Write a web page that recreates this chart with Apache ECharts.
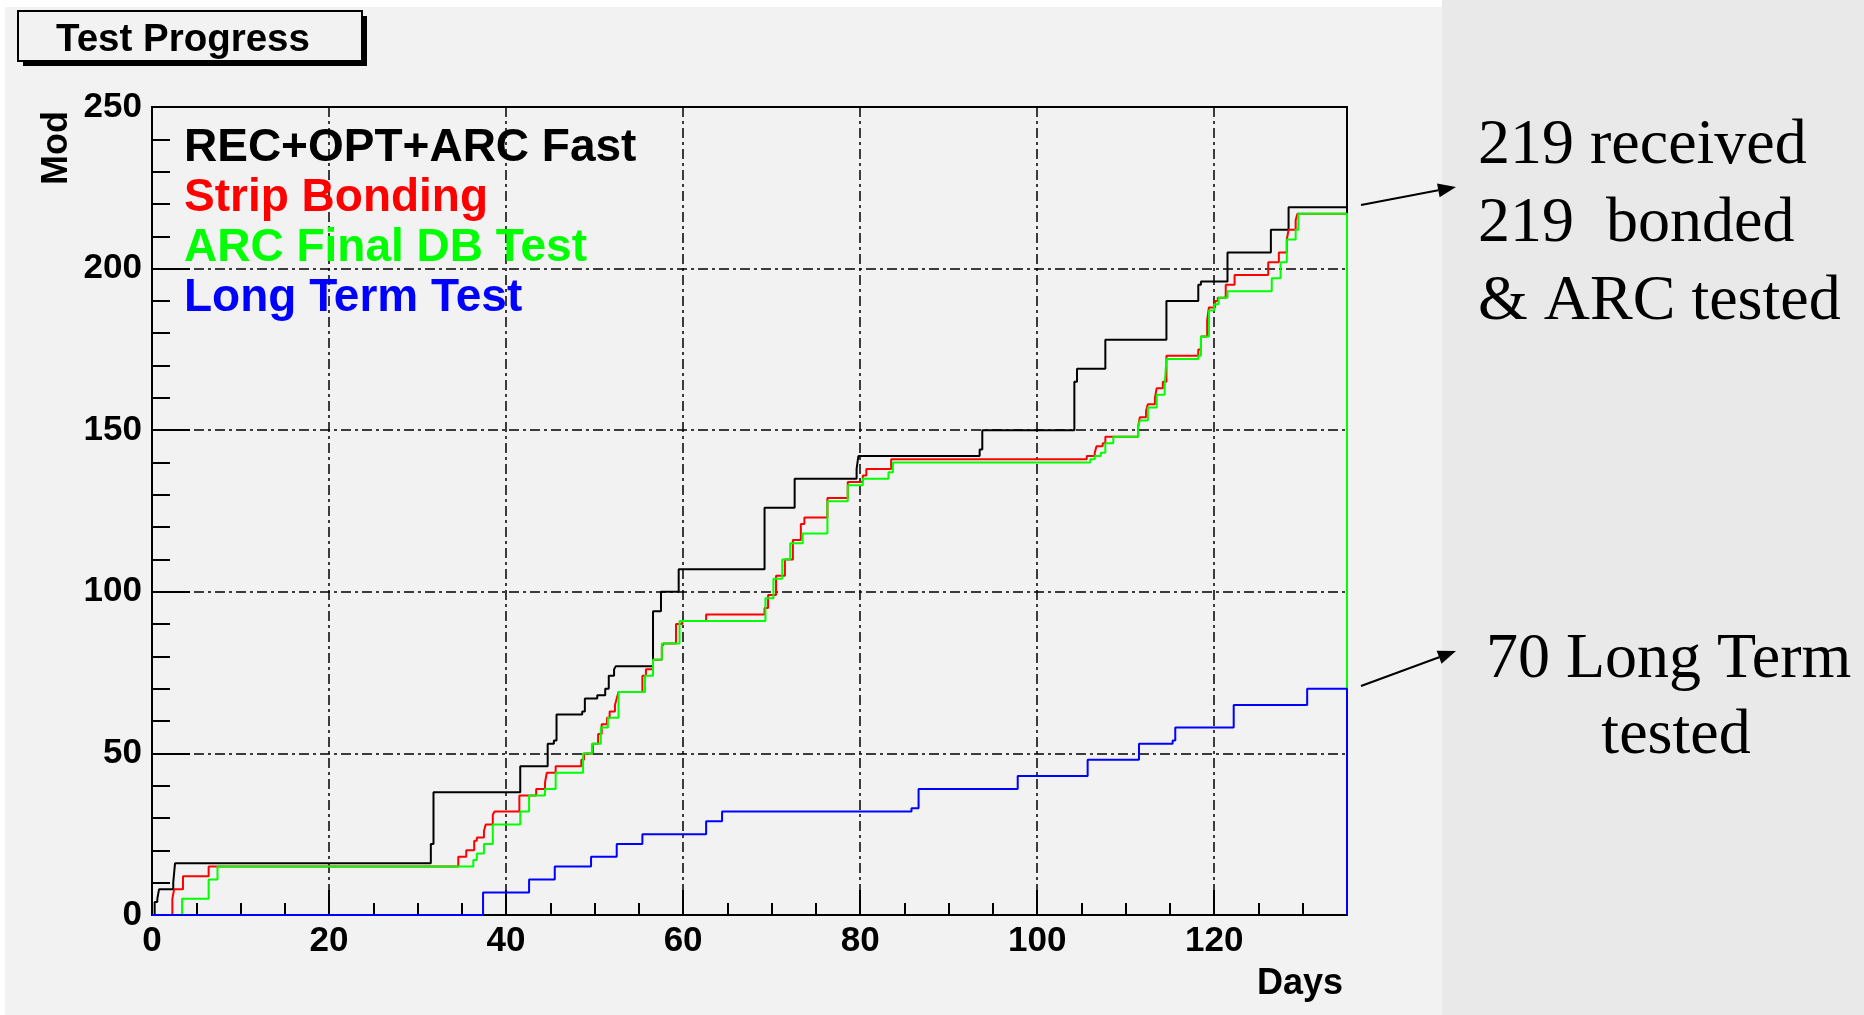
<!DOCTYPE html>
<html>
<head>
<meta charset="utf-8">
<script src="https://cdn.jsdelivr.net/npm/echarts@6/dist/echarts.min.js"></script>
<style>
  html, body { margin: 0; padding: 0; background: #e9e9e9; }
  #chart { width: 1864px; height: 1015px; }
</style>
</head>
<body>
<div id="chart"></div>
<script>
// series names (legend order)
const seriesNames = ["REC+OPT+ARC Fast", "Strip Bonding", "ARC Final DB Test", "Long Term Test"];
const seriesColors = ["#000000", "#ff0000", "#00ff00", "#0000ff"];

// [day, cumulative modules]
const recFast = [
  [0, 0], [0.3, 4], [0.6, 5], [0.8, 8], [2.4, 10], [2.6, 16], [31.5, 22], [31.8, 38],
  [41.6, 46], [44.7, 53], [45.4, 54], [45.7, 62], [48.6, 63], [48.9, 67], [50.3, 68],
  [51.2, 70], [51.6, 74], [52.2, 76], [52.4, 77], [56.6, 94], [57.5, 100], [59.5, 107],
  [69.2, 126], [72.6, 135], [79.6, 138], [79.8, 142], [93.5, 144], [93.8, 150],
  [104.2, 165], [104.5, 169], [107.7, 178], [114.6, 190], [118.2, 195], [118.5, 196],
  [121.5, 205], [126.4, 212], [128.4, 219], [135, 0],
];
const stripBonding = [
  [0, 0], [2.3, 5], [2.5, 8], [3.5, 12], [6.4, 15], [34.6, 18], [35.5, 20], [36.4, 23],
  [36.7, 24], [37.5, 26], [37.7, 28], [38.5, 31], [38.7, 32], [41.5, 37], [43.4, 39],
  [44.4, 41], [44.6, 44], [45.6, 46], [48.5, 48], [48.8, 50], [49.8, 53], [50.4, 56],
  [50.8, 59], [51.4, 61], [51.7, 63], [52.3, 65], [52.5, 67], [52.7, 69], [55.4, 74],
  [55.8, 76], [56.6, 79], [57.6, 83], [57.8, 84], [59.2, 90], [59.9, 91], [62.6, 93],
  [69.2, 95], [69.6, 99], [70.5, 105], [71.5, 110], [72.4, 116], [73.3, 121], [73.7, 123],
  [76.3, 129], [78.6, 134], [80.3, 136], [80.7, 138], [83.5, 141], [105.6, 142],
  [106.5, 143], [106.7, 145], [107.4, 146], [107.7, 148], [111.4, 151], [111.6, 154],
  [112.3, 156], [112.5, 158], [113.3, 160], [113.5, 163], [114.2, 165], [114.6, 173],
  [118.2, 175], [118.5, 179], [119.2, 184], [119.4, 188], [120.1, 190], [120.4, 191],
  [121.3, 195], [122.3, 198], [126.1, 202], [127.3, 205], [128.2, 209], [128.4, 212],
  [129.2, 215], [129.4, 217], [135, 0],
];
const arcFinal = [
  [0, 0], [3.4, 5], [6.4, 11], [7.4, 15], [36.3, 17], [36.7, 19], [37.5, 22], [38.5, 28],
  [41.6, 32], [42.6, 37], [44.4, 39], [45.6, 44], [48.7, 50], [49.7, 53], [50.7, 58],
  [51.5, 61], [52.7, 69], [55.7, 74], [56.6, 79], [57.6, 84], [59.6, 91], [69.3, 98],
  [70.2, 104], [71.2, 110], [72.1, 115], [73.5, 118], [76.3, 128], [78.6, 133], [80.3, 135],
  [83.2, 137], [83.7, 140], [106, 141], [106.5, 142], [107.2, 143], [107.7, 146],
  [108.6, 148], [111.4, 151], [111.6, 153], [112.5, 157], [113.5, 161], [114.4, 164],
  [114.6, 172], [118.2, 173], [118.5, 179], [119.4, 187], [120, 189], [120.5, 191],
  [121.5, 193], [126.5, 197], [127.5, 202], [128.2, 209], [129.2, 212], [129.5, 217],
  [135, 0],
];
const longTerm = [
  [0, 0], [37.4, 7], [42.6, 11], [45.5, 15], [49.6, 18], [52.5, 22], [55.4, 25], [62.6, 29],
  [64.4, 32], [85.8, 33], [86.6, 39], [97.8, 43], [105.7, 48], [111.5, 53], [115.3, 54],
  [115.6, 58], [122.2, 65], [130.5, 70], [135, 0],
];
const seriesData = [recFast, stripBonding, arcFinal, longTerm];

// axis ranges
const xMin = 0, xMax = 135, xStep = 20, xMinorStep = 5;
const yMin = 0, yMax = 250, yStep = 50;

// side notes
const noteTop = ["219 received", "219  bonded", "& ARC tested"];
const noteBottom = ["70 Long Term", "tested"];

const sans = "'Liberation Sans', Arial, sans-serif";
const serif = "'Liberation Serif', 'Times New Roman', serif";
const dashDot = [10, 4, 3, 4];

function arrow(x1, y1, x2, y2) {
  const a = Math.atan2(y2 - y1, x2 - x1);
  const len = 18, half = 7;
  const bx = x2 - len * Math.cos(a), by = y2 - len * Math.sin(a);
  return [
    { type: "line", z: 10, shape: { x1, y1, x2: bx, y2: by }, style: { stroke: "#000", lineWidth: 2 } },
    {
      type: "polygon", z: 10,
      shape: { points: [[x2, y2], [bx + half * Math.sin(a), by - half * Math.cos(a)], [bx - half * Math.sin(a), by + half * Math.cos(a)]] },
      style: { fill: "#000" },
    },
  ];
}

const chart = echarts.init(document.getElementById("chart"));

const option = {
  animation: false,
  backgroundColor: "#e9e9e9",
  grid: {
    left: 152, right: 517, top: 107, bottom: 100,
    show: true, borderColor: "#000", borderWidth: 2, backgroundColor: "transparent",
  },
  legend: {
    orient: "vertical",
    left: 174, top: 120,
    icon: "none",
    itemWidth: 0, itemHeight: 0, itemGap: 4,
    selectedMode: false,
    textStyle: { fontFamily: sans, fontWeight: "bold", fontSize: 46, lineHeight: 46 },
    data: seriesNames.map((name, i) => ({ name, textStyle: { color: seriesColors[i] } })),
  },
  xAxis: [
    {
      type: "value", min: xMin, max: xMax, interval: xStep,
      axisLine: { lineStyle: { color: "#000", width: 2 } },
      axisTick: { inside: true, length: 25, lineStyle: { color: "#000", width: 2 } },
      axisLabel: {
        color: "#000", fontFamily: sans, fontWeight: "bold", fontSize: 35, margin: 9,
        showMaxLabel: false,
      },
      splitLine: { show: true, lineStyle: { color: "#000", width: 1.5, type: dashDot } },
    },
    {
      // minor ticks every 5 days
      type: "value", min: xMin, max: xMax, interval: xMinorStep, position: "bottom",
      axisLine: { show: false },
      axisTick: { inside: true, length: 12, lineStyle: { color: "#000", width: 2 } },
      axisLabel: { show: false },
      splitLine: { show: false },
    },
  ],
  yAxis: {
    type: "value", min: yMin, max: yMax, interval: yStep,
    axisLine: { show: true, lineStyle: { color: "#000", width: 2 } },
    axisTick: { show: true, inside: true, length: 38, lineStyle: { color: "#000", width: 2 } },
    minorTick: { show: true, splitNumber: 5, length: 18, lineStyle: { color: "#000", width: 2 } },
    axisLabel: { color: "#000", fontFamily: sans, fontWeight: "bold", fontSize: 35, margin: 10 },
    splitLine: { show: true, lineStyle: { color: "#000", width: 1.5, type: dashDot } },
  },
  series: seriesNames.map((name, i) => ({
    name,
    type: "line",
    step: "end",
    xAxisIndex: 0,
    showSymbol: false,
    symbol: "none",
    color: seriesColors[i],
    lineStyle: { color: seriesColors[i], width: 2 },
    data: seriesData[i],
    z: 3 + i,
  })),
  graphic: [
    // ROOT canvas panel
    { type: "rect", z: -100, silent: true, shape: { x: 0, y: 0, width: 1442, height: 1015 }, style: { fill: "#ffffff" } },
    { type: "rect", z: -99, silent: true, shape: { x: 5, y: 7, width: 1437, height: 1008 }, style: { fill: "#f2f2f2" } },
    // title box with shadow
    { type: "rect", z: 5, shape: { x: 23, y: 16, width: 344, height: 50 }, style: { fill: "#000" } },
    { type: "rect", z: 6, shape: { x: 18, y: 11, width: 344, height: 50 }, style: { fill: "#f2f2f2", stroke: "#000", lineWidth: 2 } },
    {
      type: "text", z: 7, x: 56, y: 40,
      style: { text: "Test Progress", fill: "#000", font: `bold 38.5px ${sans}`, textVerticalAlign: "middle" },
    },
    // axis titles
    {
      type: "text", z: 7, x: 57, y: 148, rotation: Math.PI / 2,
      style: { text: "Mod", fill: "#000", font: `bold 36px ${sans}`, textAlign: "center", textVerticalAlign: "middle" },
    },
    {
      type: "text", z: 7, x: 1343, y: 984,
      style: { text: "Days", fill: "#000", font: `bold 36px ${sans}`, textAlign: "right", textVerticalAlign: "middle" },
    },
    // side notes
    ...noteTop.map((t, i) => ({
      type: "text", z: 7, x: 1478, y: 146 + i * 78,
      style: { text: t, fill: "#000", font: `64px ${serif}`, textVerticalAlign: "middle" },
    })),
    {
      type: "text", z: 7, x: 1486, y: 660,
      style: { text: noteBottom[0], fill: "#000", font: `64px ${serif}`, textVerticalAlign: "middle" },
    },
    {
      type: "text", z: 7, x: 1676, y: 736,
      style: { text: noteBottom[1], fill: "#000", font: `64px ${serif}`, textAlign: "center", textVerticalAlign: "middle" },
    },
    ...arrow(1361, 205, 1456, 187),
    ...arrow(1361, 686, 1456, 651),
  ],
};

chart.setOption(option);
</script>
</body>
</html>
